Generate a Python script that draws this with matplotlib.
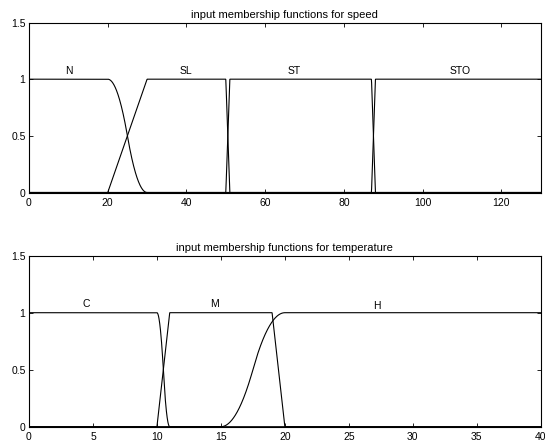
import numpy as np
import matplotlib
matplotlib.use('Agg')
import matplotlib.pyplot as plt

plt.rcParams['font.family'] = ['Liberation Sans', 'DejaVu Sans']
plt.rcParams['font.size'] = 7.5

# speed: range and membership function parameters
speed_range = [0, 130]
speed_names = ['N', 'SL', 'ST', 'STO']
speed_types = ['zmf', 'trapmf', 'trapmf', 'trapmf']
speed_params = [[20, 30], [20, 30, 50, 51], [50, 51, 87, 88], [87, 88, 130, 131]]
speed_label_x = [10.2, 39.8, 67.3, 109.4]
speed_ticks = [0, 20, 40, 60, 80, 100, 120]

# temperature
temp_range = [0, 40]
temp_names = ['C', 'M', 'H']
temp_types = ['zmf', 'trapmf', 'smf']
temp_params = [[10, 11], [10, 11, 19, 20], [15, 20]]
temp_label_x = [4.5, 14.5, 27.2]
temp_ticks = [0, 5, 10, 15, 20, 25, 30, 35, 40]

y_ticks = [0, 0.5, 1, 1.5]


def smf(x, p):
    a, b = p
    m = (a + b) / 2.0
    y = np.zeros_like(x)
    y[x >= b] = 1.0
    i = (x > a) & (x <= m)
    y[i] = 2 * ((x[i] - a) / (b - a)) ** 2
    i = (x > m) & (x < b)
    y[i] = 1 - 2 * ((x[i] - b) / (b - a)) ** 2
    return y


def zmf(x, p):
    return 1.0 - smf(x, p)


def trapmf(x, p):
    a, b, c, d = p
    up = np.clip((x - a) / (b - a), 0, 1)
    down = np.clip((d - x) / (d - c), 0, 1)
    return np.minimum(up, down)


funcs = {'smf': smf, 'zmf': zmf, 'trapmf': trapmf}


def plot_mfs(ax, rng, names, types, params, label_x, ticks, title, label_dy):
    x = np.linspace(rng[0], rng[1], 2001)
    for t, p in zip(types, params):
        ax.plot(x, funcs[t](x, p), color='black', lw=0.8, solid_joinstyle='miter')
    for name, lx in zip(names, label_x):
        ax.text(lx, 1.05 + label_dy.get(name, 0), name, ha='center', va='baseline', fontsize=7.5)
    ax.set_xlim(rng)
    ax.set_ylim(0, 1.5)
    ax.set_xticks(ticks)
    ax.set_yticks(y_ticks)
    ax.set_yticklabels(['0', '0.5', '1', '1.5'])
    ax.tick_params(direction='in', length=3, width=0.6, top=True, right=True, labelsize=7.5)
    ax.tick_params(axis='x', pad=4)
    ax.tick_params(axis='y', pad=2.5)
    for s in ax.spines.values():
        s.set_linewidth(0.8)
    ax.set_title(title, fontsize=8, pad=3.5)


fig = plt.figure(figsize=(5.45, 4.45), dpi=100)
ax1 = fig.add_axes([0.0532, 0.5674, 0.939, 0.382])
ax2 = fig.add_axes([0.0532, 0.0411, 0.939, 0.3843])

plot_mfs(ax1, speed_range, speed_names, speed_types, speed_params, speed_label_x,
         speed_ticks, 'input membership functions for speed', {})
plot_mfs(ax2, temp_range, temp_names, temp_types, temp_params, temp_label_x,
         temp_ticks, 'input membership functions for temperature', {'H': -0.02})

fig.savefig('out.png', dpi=100)
